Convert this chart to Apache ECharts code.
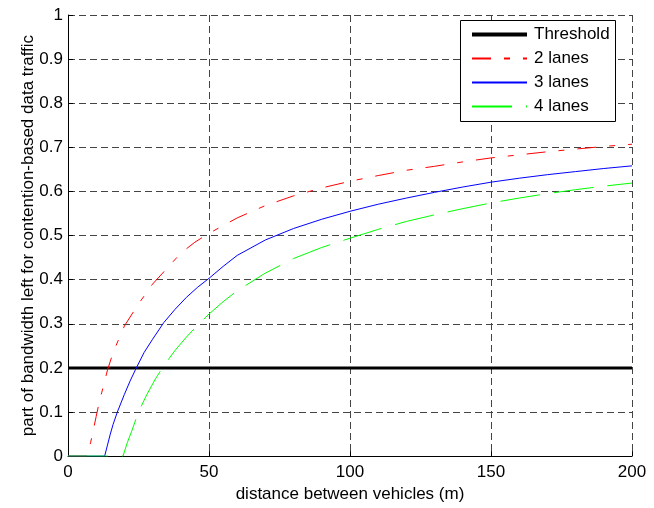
<!DOCTYPE html>
<html>
<head>
<meta charset="utf-8">
<script src="https://cdn.jsdelivr.net/npm/echarts@6/dist/echarts.min.js"></script>
<style>
  html, body { margin: 0; padding: 0; background: #fff; }
  #myChart { width: 654px; height: 508px; }
</style>
</head>
<body>
<div id="myChart"></div>
<script>
// values
const thresholdDist = [0, 200]
const thresholdPart = [0.2, 0.2]

const lanes2Dist = [0, 7, 7.5, 8, 9, 10, 11, 12, 13, 14, 16, 18, 20, 25, 30, 35, 40, 45, 50, 60, 70, 80, 90, 100, 110, 120, 130, 140, 150, 160, 170, 180, 190, 200]
const lanes2Part = [0, 0, 0.02, 0.03, 0.06, 0.09, 0.12, 0.145, 0.17, 0.195, 0.235, 0.265, 0.295, 0.345, 0.39, 0.425, 0.46, 0.485, 0.505, 0.54, 0.568, 0.59, 0.608, 0.623, 0.636, 0.648, 0.657, 0.667, 0.676, 0.683, 0.69, 0.696, 0.702, 0.707]

const lanes3Dist = [0, 13, 14, 15, 16, 17.5, 20, 22, 24, 27, 30, 34, 38, 42, 46, 50, 55, 60, 70, 80, 90, 100, 110, 120, 130, 140, 150, 160, 170, 180, 190, 200]
const lanes3Part = [0, 0, 0.025, 0.05, 0.072, 0.1, 0.14, 0.17, 0.197, 0.235, 0.265, 0.303, 0.333, 0.36, 0.383, 0.403, 0.43, 0.455, 0.49, 0.516, 0.537, 0.555, 0.571, 0.585, 0.598, 0.61, 0.621, 0.63, 0.638, 0.645, 0.652, 0.658]

const lanes4Dist = [0, 19.5, 21, 22.5, 25, 28, 31, 34, 38, 42, 46, 50, 55, 60, 70, 80, 90, 100, 110, 120, 130, 140, 150, 160, 170, 180, 190, 200]
const lanes4Part = [0, 0, 0.03, 0.055, 0.1, 0.14, 0.175, 0.205, 0.24, 0.27, 0.297, 0.322, 0.35, 0.375, 0.415, 0.448, 0.473, 0.494, 0.514, 0.532, 0.547, 0.561, 0.574, 0.585, 0.595, 0.604, 0.612, 0.619]

const pairs = (xs, ys) => xs.map((x, i) => [x, ys[i]])

const font = 'Liberation Sans, Arial, sans-serif'
const gridLine = { show: true, lineStyle: { color: '#444', type: [7, 4], width: 1 } }

const chart = echarts.init(document.getElementById('myChart'))
chart.setOption({
  animation: false,
  backgroundColor: '#fff',
  textStyle: { fontFamily: font },
  grid: { left: 68, right: 22, top: 15, bottom: 49 },
  graphic: [{
    type: 'rect',
    z: 3,
    shape: { x: 460.5, y: 20.5, width: 155, height: 101 },
    style: { fill: '#fff', stroke: '#000', lineWidth: 1 }
  }],
  legend: {
    z: 5,
    orient: 'vertical',
    left: 470,
    top: 26,
    padding: 0,
    itemWidth: 55,
    itemHeight: 17,
    itemGap: 7,
    itemStyle: { opacity: 0 },
    textStyle: { fontSize: 17, color: '#000', fontFamily: font, padding: [0, 0, 0, 2] },
    data: [
      { name: 'Threshold', lineStyle: { width: 4 } },
      '2 lanes', '3 lanes', '4 lanes'
    ]
  },
  xAxis: {
    type: 'value',
    min: 0,
    max: 200,
    interval: 50,
    name: 'distance between vehicles (m)',
    nameLocation: 'middle',
    nameGap: 28,
    nameTextStyle: { fontSize: 17, color: '#000', fontFamily: font },
    axisLine: { show: true, lineStyle: { color: '#000', width: 1 } },
    axisTick: { show: true, inside: true, length: 5, lineStyle: { color: '#000' } },
    axisLabel: { fontSize: 17, color: '#000', margin: 8, fontFamily: font },
    splitLine: gridLine
  },
  yAxis: {
    type: 'value',
    min: 0,
    max: 1,
    interval: 0.1,
    name: 'part of bandwidth left for contention-based data traffic',
    nameLocation: 'middle',
    nameGap: 31,
    nameMoveOverlap: false,
    nameTextStyle: { fontSize: 17, color: '#000', fontFamily: font },
    axisLine: { show: true, lineStyle: { color: '#000', width: 1 } },
    axisTick: { show: true, inside: true, length: 5, lineStyle: { color: '#000' } },
    axisLabel: { fontSize: 17, color: '#000', margin: 5, fontFamily: font },
    splitLine: gridLine
  },
  series: [
    {
      name: 'Threshold',
      type: 'line',
      symbol: 'none',
      color: '#000',
      lineStyle: { color: '#000', width: 3 },
      data: pairs(thresholdDist, thresholdPart)
    },
    {
      name: '2 lanes',
      type: 'line',
      symbol: 'none',
      color: '#ff0000',
      lineStyle: { color: '#ff0000', width: 1, type: [19, 13, 6, 13] },
      data: pairs(lanes2Dist, lanes2Part)
    },
    {
      name: '3 lanes',
      type: 'line',
      symbol: 'none',
      color: '#0000ff',
      lineStyle: { color: '#0000ff', width: 1 },
      data: pairs(lanes3Dist, lanes3Part)
    },
    {
      name: '4 lanes',
      type: 'line',
      symbol: 'none',
      color: '#00ff00',
      lineStyle: { color: '#00ff00', width: 1, type: [40, 14] },
      data: pairs(lanes4Dist, lanes4Part)
    }
  ]
})
</script>
</body>
</html>
